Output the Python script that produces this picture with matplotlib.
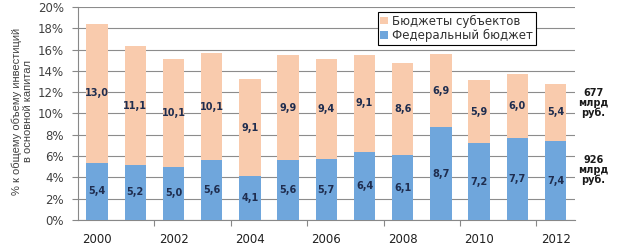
import numpy as np
import matplotlib
matplotlib.use("Agg")
import matplotlib.pyplot as plt

years = list(range(2000, 2013))
federal = [5.4, 5.2, 5.0, 5.6, 4.1, 5.6, 5.7, 6.4, 6.1, 8.7, 7.2, 7.7, 7.4]
regional = [13.0, 11.1, 10.1, 10.1, 9.1, 9.9, 9.4, 9.1, 8.6, 6.9, 5.9, 6.0, 5.4]
label_regional = "Бюджеты субъектов"
label_federal = "Федеральный бюджет"
ylabel = "% к общему объему инвестиций\nв основной капитал"
note_top = "677\nмлрд\nруб."
note_bottom = "926\nмлрд\nруб."

plt.rcParams["font.family"] = ["DejaVu Sans"]

c_peach = "#F9CBAD"
c_blue = "#6FA6DC"
c_text = "#1F2D4F"

fig = plt.figure(figsize=(6.24, 2.47), dpi=100)
ax = fig.add_axes([0.125, 0.109, 0.796, 0.863])

x = np.arange(len(years))
w = 0.56
ax.bar(x, federal, w, color=c_blue, label=label_federal, zorder=3)
ax.bar(x, regional, w, bottom=federal, color=c_peach, label=label_regional, zorder=3)

# value labels inside segments
for i in range(len(years)):
    ax.text(x[i], federal[i] / 2, f"{federal[i]:.1f}".replace(".", ","),
            ha="center", va="center", fontsize=7, fontweight="bold", color=c_text, zorder=4)
    ax.text(x[i], federal[i] + regional[i] / 2, f"{regional[i]:.1f}".replace(".", ","),
            ha="center", va="center", fontsize=7, fontweight="bold", color=c_text, zorder=4)

ax.set_xlim(-0.5, len(years) - 0.5)
ax.set_ylim(0, 20)
ax.set_yticks(np.arange(0, 21, 2))
ax.set_yticklabels([f"{v}%" for v in range(0, 21, 2)], fontsize=8.5, color="#404040")
ax.set_xticks(x[::2])
ax.set_xticklabels([str(y) for y in years[::2]], fontsize=8.5, color="#202020")
ax.tick_params(axis="x", length=0, pad=9)
ax.tick_params(axis="y", length=4, color="#888888", width=0.8, pad=6)
ax.set_xticks(np.arange(1.5, len(years) - 1, 2), minor=True)
ax.tick_params(axis="x", which="minor", length=4, color="#888888", width=0.8)

ax.grid(axis="y", color="#8C8C8C", linewidth=0.8, zorder=0)
for s in ["top", "right"]:
    ax.spines[s].set_visible(False)
ax.spines["left"].set_color("#888888")
ax.spines["bottom"].set_color("#888888")

ax.set_ylabel(ylabel, fontsize=8, color="#404040", linespacing=1.2,
              family=["Liberation Sans Narrow", "Liberation Sans", "DejaVu Sans"])
ax.yaxis.set_label_coords(-0.09, 0.51)

handles, labels = ax.get_legend_handles_labels()
leg = ax.legend(handles[::-1], labels[::-1], loc="upper left", bbox_to_anchor=(0.603, 0.977),
                prop={"size": 8.5}, frameon=True, fancybox=False, edgecolor="black",
                handlelength=0.6, handleheight=0.6, handletextpad=0.4,
                borderpad=0.25, labelspacing=0.12, borderaxespad=0)
for t in leg.get_texts():
    t.set_color("#303030")
leg.get_frame().set_linewidth(0.8)
leg.get_frame().set_alpha(1)
leg.set_zorder(5)

fig.text(0.951, 0.583, note_top, ha="center", va="center", fontsize=7,
         fontweight="bold", color="#1a1a1a", linespacing=1.0)
fig.text(0.951, 0.312, note_bottom, ha="center", va="center", fontsize=7,
         fontweight="bold", color="#1a1a1a", linespacing=1.0)

fig.savefig("out.png", dpi=100)
